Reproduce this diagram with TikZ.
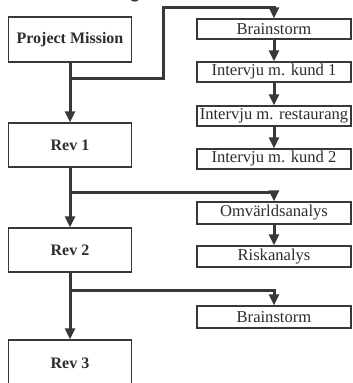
\documentclass[tikz,border=0pt]{standalone}
\usepackage{fontspec}
\setmainfont{Liberation Serif}
\newfontfamily\titlefont{Liberation Sans}
\usetikzlibrary{arrows.meta}
\definecolor{ink}{HTML}{383838}
\begin{document}
\begin{tikzpicture}[x=1pt,y=-1pt,
  leftbox/.style={draw=ink,line width=1.4pt,fill=white,minimum width=123pt,inner sep=0pt,
    font=\fontsize{16}{18}\selectfont\bfseries,text=ink!80!black},
  rightbox/.style={draw=ink,line width=1.4pt,fill=white,minimum width=154pt,minimum height=20pt,inner sep=0pt,
    font=\fontsize{16.6}{18}\selectfont,text=ink!80!black},
  conn/.style={draw=ink,line width=3pt},
  arr/.style={conn,-{Triangle[width=10pt,length=11pt]}}]
\useasboundingbox (0,0) rectangle (353,383);
% cropped title fragment
\node[anchor=base,inner sep=0pt,font=\titlefont\fontsize{22}{24}\selectfont,text=ink] (title) at (135,-2.2) {g};
% left column
\node[leftbox,minimum height=45pt] (pm) at (70,39.5) {Project Mission};
\node[leftbox,minimum height=44pt] (r1) at (70,145) {Rev 1};
\node[leftbox,minimum height=44pt] (r2) at (70,250) {Rev 2};
\node[leftbox,minimum height=46pt] (r3) at (70,363) {Rev 3};
% right column
\node[rightbox] (b1) at (274,29) {Brainstorm};
\node[rightbox] (k1) at (274,72) {Intervju m. kund 1};
\node[rightbox] (rs) at (274,116) {Intervju m. restaurang};
\node[rightbox] (k2) at (274,159) {Intervju m. kund 2};
\node[rightbox,minimum height=22pt] (om) at (274,213) {Omvärldsanalys};
\node[rightbox,minimum height=21pt] (ri) at (274,256.5) {Riskanalys};
\node[rightbox,minimum height=22pt] (b2) at (274,317) {Brainstorm};
% trunk
\draw[arr] (pm) -- (r1);
\draw[arr] (r1) -- (r2);
\draw[arr] (r2) -- (r3);
% branches
\coordinate (j1) at (70,78);
\coordinate (c1) at (163,7);
\coordinate (j2) at (70,192);
\coordinate (j3) at (70,290);
\draw[arr] (j1) -| (c1) -| (b1.north);
\draw[arr] (j2) -| (om.north);
\draw[arr] (j3) -| (b2.north);
% right chains
\draw[arr] (b1) -- (k1);
\draw[arr] (k1) -- (rs);
\draw[arr] (rs) -- (k2);
\draw[arr] (om) -- (ri);
\end{tikzpicture}
\end{document}
